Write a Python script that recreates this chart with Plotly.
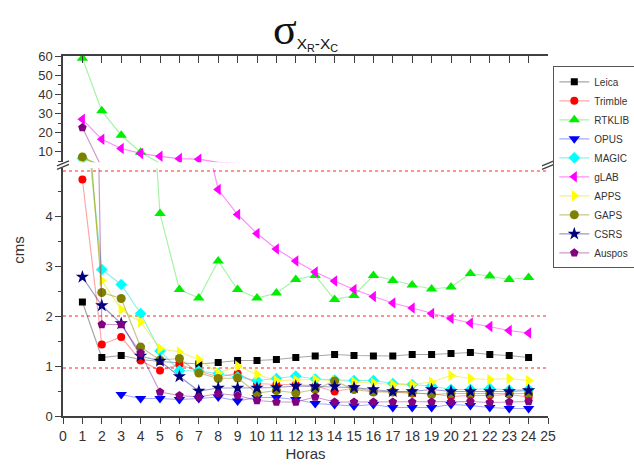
import plotly.graph_objects as go

hours = list(range(1, 25))

leica   = [2.28,1.17,1.21,1.13,1.09,1.06,1.04,1.07,1.11,1.11,1.13,1.17,1.20,1.23,1.21,1.20,1.20,1.23,1.23,1.25,1.27,1.23,1.21,1.17]
trimble = [4.73,1.43,1.58,1.11,0.91,1.03,0.90,0.78,0.85,0.65,0.63,0.63,0.60,0.49,0.56,0.50,0.48,0.45,0.45,0.39,0.41,0.41,0.43,0.38]
rtklib  = [58.8,31.4,18.7,9.8,4.05,2.53,2.36,3.10,2.53,2.36,2.46,2.73,2.81,2.33,2.41,2.81,2.71,2.62,2.54,2.58,2.85,2.80,2.73,2.77]
opus    = [None,None,0.43,0.35,0.35,0.33,0.35,0.38,0.30,0.37,0.37,0.33,0.25,0.23,0.20,0.23,0.17,0.17,0.17,0.23,0.21,0.17,0.15,0.15]
magic   = [6.6,2.93,2.63,2.05,1.30,0.91,0.90,0.85,0.78,0.71,0.75,0.80,0.74,0.72,0.71,0.71,0.65,0.63,0.60,0.53,0.53,0.55,0.52,0.53]
glab    = [27.0,16.6,11.8,9.2,7.7,6.5,6.2,4.53,4.03,3.65,3.34,3.10,2.88,2.70,2.53,2.39,2.26,2.16,2.05,1.95,1.86,1.79,1.71,1.66]
apps    = [6.8,2.71,2.13,1.88,1.35,1.28,1.13,0.86,1.00,0.83,0.71,0.72,0.73,0.71,0.68,0.66,0.63,0.63,0.68,0.81,0.75,0.73,0.75,0.71]
gaps    = [7.4,2.47,2.35,1.38,1.12,1.15,0.86,0.75,0.76,0.46,0.51,0.46,0.53,0.70,0.53,0.48,0.48,0.47,0.43,0.45,0.45,0.45,0.45,0.45]
csrs    = [2.78,2.21,1.85,1.20,1.10,0.79,0.50,0.56,0.56,0.56,0.57,0.60,0.59,0.59,0.57,0.53,0.49,0.49,0.53,0.49,0.49,0.49,0.49,0.51]
auspos  = [22.7,1.83,1.83,1.26,0.48,0.41,0.38,0.45,0.41,0.31,0.28,0.28,0.38,0.28,0.28,0.28,0.28,0.28,0.28,0.28,0.29,0.27,0.28,0.29]

series_names = ["Leica", "Trimble", "RTKLIB", "OPUS", "MAGIC", "gLAB", "APPS", "GAPS", "CSRS", "Auspos"]
series_values = [leica, trimble, rtklib, opus, magic, glab, apps, gaps, csrs, auspos]

ref_lines = [0.96, 2.0, 4.9]

x_tick_labels = [str(i) for i in range(0, 26)]
lower_tick_labels = ["0", "1", "2", "3", "4"]
upper_tick_labels = ["10", "20", "30", "40", "50", "60"]

# ---- styles ----
colors = ["#000000", "#ff0000", "#00ee00", "#0000ff", "#00ffff", "#ff00ff", "#ffff00", "#808000", "#000080", "#800080"]
line_colors = ["rgba(0,0,0,0.35)", "rgba(255,0,0,0.35)", "rgba(0,220,0,0.35)", "rgba(0,0,255,0.35)",
               "rgba(0,220,220,0.45)", "rgba(255,0,255,0.45)", "rgba(230,230,0,0.5)", "rgba(128,128,0,0.45)",
               "rgba(0,0,128,0.4)", "rgba(128,0,128,0.4)"]
symbols = ["square", "circle", "triangle-up", "triangle-down", "diamond", "triangle-left",
           "triangle-right", "circle", "star", "pentagon"]
sizes = [7, 8, 10, 10, 9, 10, 10, 9, 10, 9]

LOWER_RANGE = [0, 4.954]
UPPER_RANGE = [4.64, 60]
AXC = "#404040"
FONT = "Liberation Sans, Arial, sans-serif"

fig = go.Figure()

for name, vals, c, lc, s, sz in zip(series_names, series_values, colors, line_colors, symbols, sizes):
    fig.add_trace(go.Scatter(
        x=hours, y=vals, name=name, mode="lines+markers",
        line=dict(color=lc, width=1.2),
        marker=dict(color=c, symbol=s, size=sz, line=dict(width=0)),
        xaxis="x", yaxis="y", connectgaps=False,
    ))
for name, vals, c, lc, s, sz in zip(series_names, series_values, colors, line_colors, symbols, sizes):
    op = [1 if (v is not None and v > LOWER_RANGE[1]) else 0 for v in vals]
    fig.add_trace(go.Scatter(
        x=hours, y=vals, name=name, mode="lines+markers", showlegend=False,
        line=dict(color=lc, width=1.2),
        marker=dict(color=c, symbol=s, size=sz, opacity=op, line=dict(width=0)),
        xaxis="x2", yaxis="y2",
    ))

shapes = []
for v in ref_lines:
    shapes.append(dict(type="line", xref="x", yref="y", x0=0, x1=25, y0=v, y1=v,
                       line=dict(color="rgba(255,60,60,0.75)", width=1.5, dash="dot"), layer="below"))

# axis break marks (decoration)
def px2paper(px, py):
    return (px - 62.5) / 485.2, (415.7 - py) / 360.0

for bx in (62.5, 547.7):
    for off in (0, 3.5):
        x0, y0 = px2paper(bx - 6, 168 - off + 1)
        x1, y1 = px2paper(bx + 6, 163 - off + 1)
        shapes.append(dict(type="line", xref="paper", yref="paper", x0=x0, y0=y0, x1=x1, y1=y1,
                           line=dict(color=AXC, width=1.3)))

axis_common = dict(showline=True, linecolor=AXC, linewidth=1.5, showgrid=False, zeroline=False,
                   tickcolor=AXC, tickwidth=1.2)

fig.update_layout(
    width=634, height=471,
    margin=dict(l=62.5, r=86.3, t=55.7, b=55.3, autoexpand=False),
    paper_bgcolor="white", plot_bgcolor="white",
    font=dict(family=FONT, color="#333333"),
    title=dict(text="<span style='font-family:Liberation Serif'>σ</span>"
                    "<span style='font-size:22px'><sub>X<sub>R</sub>-X<sub>C</sub></sub></span>",
               x=0.5, xref="paper", y=1 - 29 / 471, yanchor="middle",
               font=dict(size=44, family=FONT, color="#111111")),
    xaxis=dict(domain=[0, 1], anchor="y", range=[0, 25], tickmode="array",
               tickvals=list(range(0, 26)), ticktext=x_tick_labels,
               ticks="outside", ticklen=6, tickfont=dict(size=14, color="#333333"),
               title=dict(text="Horas", font=dict(size=15, color="#333333"), standoff=6),
               **axis_common),
    xaxis2=dict(matches="x", anchor="y2", side="top", range=[0, 25], tickmode="linear", tick0=0, dtick=1,
                ticks="inside", ticklen=7, showticklabels=False, **axis_common),
    yaxis=dict(domain=[0, 0.688], anchor="x", range=LOWER_RANGE, tickmode="array",
               tickvals=[0, 1, 2, 3, 4], ticktext=lower_tick_labels,
               ticks="outside", ticklen=6, tickfont=dict(size=13, color="#333333"),
               minor=dict(dtick=0.5, tick0=0, ticks="outside", ticklen=3, tickcolor=AXC),
               **axis_common),
    yaxis2=dict(domain=[0.705, 1], anchor="x", range=UPPER_RANGE, tickmode="array",
                tickvals=[10, 20, 30, 40, 50, 60], ticktext=upper_tick_labels,
                ticks="outside", ticklen=6, tickfont=dict(size=13, color="#333333"),
                minor=dict(dtick=5, tick0=0, ticks="outside", ticklen=3, tickcolor=AXC),
                **axis_common),
    yaxis3=dict(domain=[0, 0.688], anchor="x", overlaying="y", side="right", matches="y",
                range=LOWER_RANGE, tickmode="linear", tick0=0, dtick=0.5,
                ticks="inside", ticklen=6, showticklabels=False, **axis_common),
    yaxis4=dict(domain=[0.705, 1], anchor="x", overlaying="y2", side="right", matches="y2",
                range=UPPER_RANGE, tickmode="linear", tick0=0, dtick=10,
                ticks="inside", ticklen=6, showticklabels=False, **axis_common),
    shapes=shapes,
    legend=dict(x=(553 - 62.5) / 485.2, y=(415.7 - 66) / 360, xanchor="left", yanchor="top",
                bgcolor="white", bordercolor="#555555", borderwidth=1,
                font=dict(size=10, color="#333333"), itemwidth=30, tracegroupgap=0),
    annotations=[dict(text="cms", xref="paper", yref="paper", x=(18 - 62.5) / 485.2,
                      y=(415.7 - 250) / 360, xanchor="center", yanchor="middle", textangle=-90,
                      showarrow=False, font=dict(size=15, color="#333333"))],
)

fig.write_html("out.html", config={"displayModeBar": False},
               post_script="document.body.style.margin='0px';")
